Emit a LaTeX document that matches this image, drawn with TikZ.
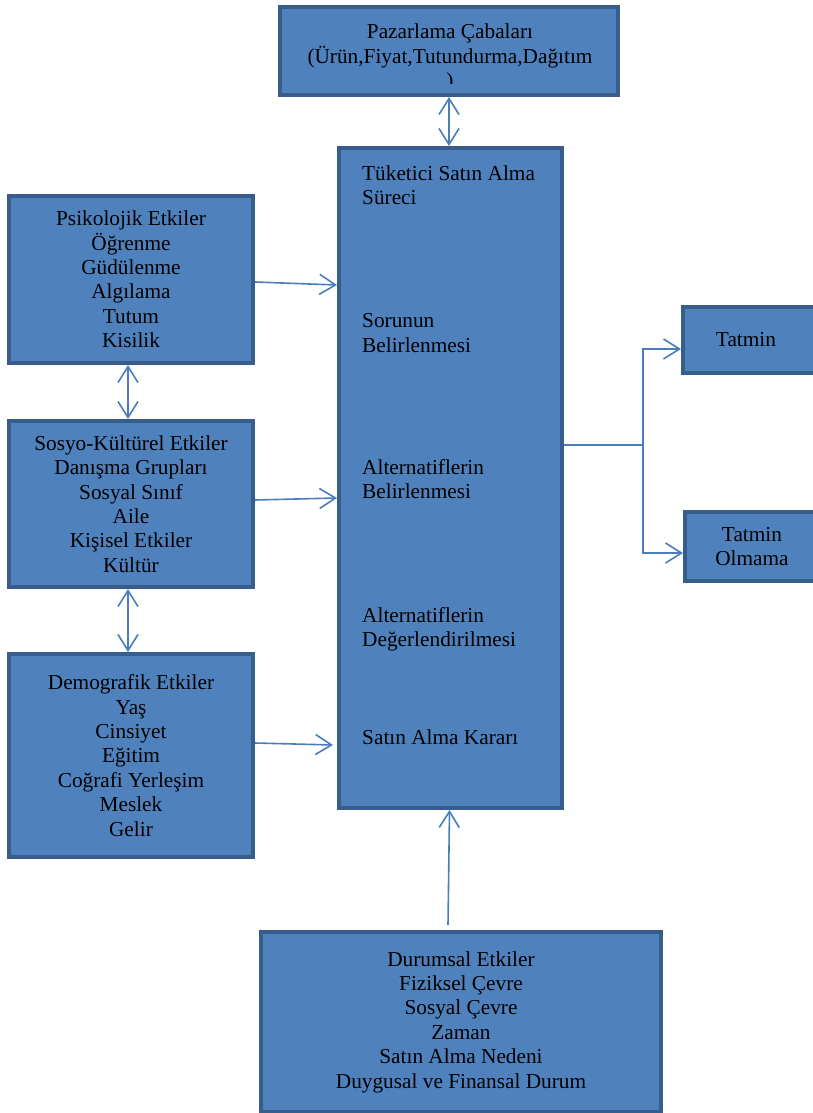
\documentclass[tikz,border=0pt]{standalone}
\usepackage{fontspec}
\setmainfont{Liberation Serif}
\usetikzlibrary{arrows.meta,calc}
\definecolor{boxfill}{RGB}{79,129,189}
\definecolor{boxline}{RGB}{56,93,138}
\definecolor{arrowc}{RGB}{74,126,187}
\newcommand\fsz{\fontsize{21.3}{24.4}\selectfont}
\begin{document}
\begin{tikzpicture}[x=1pt,y=-1pt,
  box/.style={draw=boxline, line width=4pt, fill=boxfill, inner sep=0pt, outer sep=2pt, font=\fsz, align=center},
  txt/.style={inner sep=0pt, font=\fsz, align=center},
  link/.style={draw=arrowc, line width=1.6pt},
  conn/.style={link, -{Straight Barb[length=16pt,width=20pt]}},
  dconn/.style={link, {Straight Barb[length=16pt,width=20pt]}-{Straight Barb[length=16pt,width=20pt]}}]
\useasboundingbox (0,0) rectangle (812,1113);
% boxes
\node[box, minimum width=338pt, minimum height=88pt] (top) at (449,51) {};
\node[box, minimum width=223pt, minimum height=660pt] (main) at (450.5,478) {};
\node[box, minimum width=244pt, minimum height=167pt] (psik) at (131,279.5)
  {Psikolojik Etkiler\\Öğrenme\\Güdülenme\\Algılama\\Tutum\\Kisilik};
\node[box, minimum width=244pt, minimum height=166pt] (sosyo) at (131,504)
  {Sosyo-Kültürel Etkiler\\Danışma Grupları\\Sosyal Sınıf\\Aile\\Kişisel Etkiler\\Kültür};
\node[box, minimum width=244pt, minimum height=203pt] (demo) at (131,755.5)
  {Demografik Etkiler\\Yaş\\Cinsiyet\\Eğitim\\Coğrafi Yerleşim\\Meslek\\Gelir};
\node[box, minimum width=400pt, minimum height=180pt] (dur) at (461,1022)
  {Durumsal Etkiler\\Fiziksel Çevre\\Sosyal Çevre\\Zaman\\Satın Alma Nedeni\\Duygusal ve Finansal Durum};
\node[box, minimum width=140pt, minimum height=66pt] (tatmin) at (753,340) {};
\node[box, minimum width=140pt, minimum height=69pt] (olmama) at (755,546.5) {};
\node[txt] (tt) at (746,340) {Tatmin};
\node[txt] (to) at (752,546.5) {Tatmin\\Olmama};
% top box text (clipped like the original text box)
\begin{scope}
  \clip (280,7) rectangle (618,84);
  \node[txt, anchor=base] (p1) at (450,39) {Pazarlama Çabaları};
  \node[txt, anchor=base] (p2) at (450,63.4) {(Ürün,Fiyat,Tutundurma,Dağıtım};
  \node[txt, anchor=base] (p3) at (450,88) {)};
\end{scope}
% main box text
\node[txt, anchor=base west] (m1) at (362,180) {Tüketici Satın Alma};
\node[txt, anchor=base west] (m2) at (362,204) {Süreci};
\node[txt, anchor=base west] (m3) at (362,327) {Sorunun};
\node[txt, anchor=base west] (m4) at (362,352) {Belirlenmesi};
\node[txt, anchor=base west] (m5) at (362,474) {Alternatiflerin};
\node[txt, anchor=base west] (m6) at (362,498) {Belirlenmesi};
\node[txt, anchor=base west] (m7) at (362,622) {Alternatiflerin};
\node[txt, anchor=base west] (m8) at (362,646) {Değerlendirilmesi};
\node[txt, anchor=base west] (m9) at (362,744) {Satın Alma Kararı};
% connectors
\draw[dconn] (top.south) -- (top.south |- main.north);
\draw[conn] ($(psik.east)+(0,2.5)$) -- ($(main.west |- psik.east)+(0,5.5)$);
\draw[conn] ($(sosyo.east)+(0,-4)$) -- ($(main.west |- sosyo.east)+(0,-6)$);
\draw[conn] ($(demo.east)+(0,-12.5)$) -- ($(main.west |- demo.east)+(-4,-10.5)$);
\draw[dconn] ($(psik.south)+(-3,0)$) -- ($(sosyo.north)+(-3,0)$);
\draw[dconn] ($(sosyo.south)+(-3,0)$) -- ($(demo.north)+(-3,0)$);
\draw[conn] ($(dur.north)+(-13,-5)$) -- ($(main.south)+(-1,0)$);
\coordinate (fork) at (643,445);
\draw[link] (main.east |- fork) -- (fork);
\draw[conn] (fork) |- ($(tatmin.west)+(0,9)$);
\draw[conn] (fork) |- ($(olmama.west)+(0,6.5)$);
\end{tikzpicture}
\end{document}
